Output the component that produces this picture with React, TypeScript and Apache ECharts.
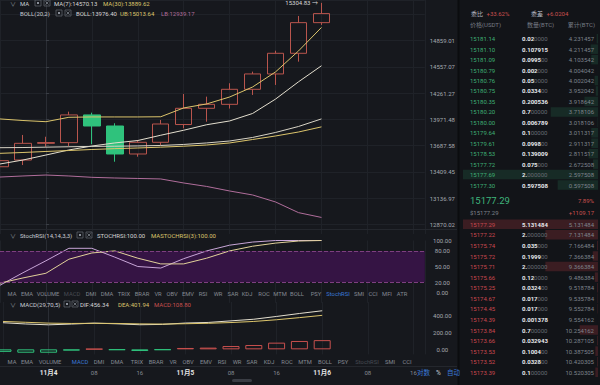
import React, { useEffect, useRef } from 'react';
import * as echarts from 'echarts';

const FONT = 'Roboto, "Noto Sans CJK SC", sans-serif';

// ---- 4h candles; hours counted from 11月4 00:00 ----
const hours = [-8, -4, 0, 4, 8, 12, 16, 20, 24, 28, 32, 36, 40, 44, 48];
const opens = [13463, 13534, 13712, 13719, 14020, 13899, 13598, 13723, 13915, 14093, 14137, 14304, 14477, 14713, 15070];
const closes = [13527, 13712, 13720, 14020, 13899, 13598, 13723, 13921, 14093, 14137, 14304, 14477, 14713, 15070, 15177.29];
const lows = [13450, 13481, 13676, 13683, 13702, 13516, 13569, 13694, 13874, 13946, 14090, 14241, 14353, 14617, 15043];
const highs = [13556, 13802, 13783, 14056, 14045, 13929, 13748, 13965, 14252, 14222, 14372, 14503, 14743, 15149, 15304.83];

const ma7 = [13492, 13534, 13587, 13641, 13683, 13716, 13742, 13799, 13853, 13913, 13954, 14036, 14195, 14388, 14570.13];
const ma30 = [13605, 13614, 13625, 13635, 13646, 13655, 13662, 13671, 13681, 13694, 13716, 13753, 13791, 13834, 13889.62];
const bollMid = [13665, 13667, 13671, 13675, 13679, 13681, 13684, 13689, 13700, 13716, 13737, 13775, 13829, 13894, 13976.40];
const bollUp = [13976, 13959, 13946, 13994, 13998, 13998, 13998, 14000, 14097, 14141, 14218, 14330, 14500, 14740, 15013.64];
const bollLow = [13355, 13366, 13376, 13366, 13352, 13345, 13340, 13335, 13293, 13257, 13210, 13169, 13097, 12988, 12939.17];

const stochRsi = [14, 38, 61, 85, 85, 68, 50, 47, 65, 80, 91, 97, 100, 100, 100];
const maStochRsi = [18, 28, 37, 64, 76, 80, 66, 55, 55, 66, 80, 89, 95, 99, 100];

const dif = [315, 300, 290, 299, 310, 302, 291, 295, 311, 318, 337, 356, 389, 424, 456.34];
const dea = [330, 320, 310, 306, 308, 306, 301, 299, 303, 308, 317, 330, 350, 375, 401.94];
const macdHist = [-30, -40, -40, -15, 5, -8, -20, -8, 16, 20, 39, 51, 79, 99, 108.80];

const priceTicks = [12870.02, 13136.97, 13409.45, 13687.58, 13971.48, 14261.27, 14557.07, 14859.01];
const stochTicks = [0, 20, 50, 80, 100];
const macdTicks = [0, 200, 400];

// ---- order book ----
const askPrices = [15181.14, 15181.10, 15181.09, 15180.79, 15180.76, 15180.75, 15180.35, 15180.20, 15180.00, 15179.64, 15179.61, 15178.53, 15177.72, 15177.69, 15177.30];
const askQty = [0.02, 0.107915, 0.0995, 0.002, 0.05, 0.0334, 0.200536, 0.7, 0.006789, 0.1, 0.0998, 0.139009, 0.075, 2.0, 0.597508];
const askCum = [4.231457, 4.211457, 4.103542, 4.004042, 4.002042, 3.952042, 3.918642, 3.718106, 3.018106, 3.011317, 2.911317, 2.811517, 2.672508, 2.597508, 0.597508];
const bidPrices = [15177.29, 15177.22, 15175.74, 15175.72, 15175.71, 15175.66, 15175.25, 15174.67, 15174.45, 15174.39, 15173.84, 15173.66, 15173.53, 15173.52, 15173.39];
const bidQty = [5.131484, 2.0, 0.035, 0.1999, 2.0, 0.12, 0.0324, 0.017, 0.017, 0.001378, 0.7, 0.032943, 0.1004, 0.0328, 0.1];
const bidCum = [5.131484, 7.131484, 7.166484, 7.366384, 9.366384, 9.486384, 9.518784, 9.535784, 9.552784, 9.554162, 10.254162, 10.287105, 10.387505, 10.420305, 10.520305];
const orderRatio = '+33.62%';
const orderDiff = '+6.0204';
const dayChangePct = '7.89%';
const dayChange = '+1109.17';

const tabs1 = ['MA', 'EMA', 'VOLUME', 'MACD', 'DMI', 'DMA', 'TRIX', 'BRAR', 'VR', 'OBV', 'EMV', 'RSI', 'WR', 'SAR', 'KDJ', 'ROC', 'MTM', 'BOLL', 'PSY', 'StochRSI', 'SMI', 'CCI', 'MFI', 'ATR'];
const tabs2 = ['MA', 'EMA', 'VOLUME', 'MACD', 'DMI', 'DMA', 'TRIX', 'BRAR', 'VR', 'OBV', 'EMV', 'RSI', 'WR', 'SAR', 'KDJ', 'ROC', 'MTM', 'BOLL', 'PSY', 'StochRSI', 'SMI', 'CCI'];

// ---- layout / style constants ----
const TAB1_X = [12, 27, 48, 72, 91, 107, 124, 142, 158, 172, 188, 203, 218, 233, 247, 264, 280, 297, 316, 338, 359, 373, 387, 402];
const TAB2_X = [12, 27, 50, 80, 99, 117, 137, 156, 173, 188, 206, 222, 237, 252, 269, 287, 305, 325, 343, 367, 390, 407];
const BG = '#16181d';
const BOOK_BG = '#121418';
const GRID_LINE = '#1f2228';
const AXIS_LINE = '#2a2d34';
const LABEL = '#a4a8b0';
const GRAY = '#858a93';
const RED = '#c9504e';
const GREEN = '#2fc27c';
const YELLOW = '#dcc56c';
const WHITE_LINE = '#e4dfcf';
const PURPLE = '#b06e9b';
const BLUE = '#3b78d8';

// log price axis: one tick step per 26.23 px; the 12870.02 tick sits at y = 224.3
const STEP_PX = 26.23;
const LOG_BASE = Math.pow(12870.02, 1 / 461);
const MAIN_H = 234;
const PMIN = Math.pow(LOG_BASE, 461 - (MAIN_H - 224.3) / STEP_PX);
const PMAX = Math.pow(LOG_BASE, 461 + 224.3 / STEP_PX);

const last = (a: number[]) => a[a.length - 1];

function txt(x: number, y: number, text: string, fill: string, size = 6, extra: any = {}) {
  return {
    type: 'text', x, y, z: 100, silent: true,
    style: { text, fill, fontSize: size, fontFamily: FONT, align: 'left', verticalAlign: 'middle', ...extra },
  };
}

function icons(x: number, cy: number, gap: number) {
  const s = '#666b74';
  return [
    { type: 'rect', z: 100, silent: true, shape: { x, y: cy - 3, width: 6, height: 6 }, style: { fill: 'none', stroke: s, lineWidth: 0.7 } },
    { type: 'rect', z: 100, silent: true, shape: { x: x + 2, y: cy - 1, width: 2, height: 2 }, style: { fill: '#8b9099' } },
    { type: 'rect', z: 100, silent: true, shape: { x: x + gap, y: cy - 3, width: 6, height: 6 }, style: { fill: 'none', stroke: s, lineWidth: 0.7 } },
    { type: 'line', z: 100, silent: true, shape: { x1: x + gap + 1.5, y1: cy - 1.5, x2: x + gap + 4.5, y2: cy + 1.5 }, style: { stroke: '#8b9099', lineWidth: 0.7 } },
    { type: 'line', z: 100, silent: true, shape: { x1: x + gap + 4.5, y1: cy - 1.5, x2: x + gap + 1.5, y2: cy + 1.5 }, style: { stroke: '#8b9099', lineWidth: 0.7 } },
  ];
}

function qtyRich(q: number) {
  const s = q.toFixed(6);
  const strong = s.replace(/0+$/, '');
  const weak = s.slice(strong.length);
  return weak ? `{a|${strong}}{b|${weak}}` : `{a|${strong}}`;
}

const RICH_QTY = {
  a: { fill: '#e6e8ec', fontWeight: 'bold', fontSize: 6, fontFamily: FONT },
  b: { fill: '#676c74', fontSize: 6, fontFamily: FONT },
};

function buildGraphics() {
  const g: any[] = [];
  g.push({ type: 'rect', z: -10, silent: true, shape: { x: 459, y: 0, width: 141, height: 385 }, style: { fill: BOOK_BG } });
  g.push({ type: 'rect', z: -9, silent: true, shape: { x: 457.5, y: 0, width: 2, height: 385 }, style: { fill: '#0b0c0f' } });
  g.push({ type: 'line', z: 50, silent: true, shape: { x1: 0, y1: 229.5, x2: 457, y2: 229.5 }, style: { stroke: '#24272d', lineWidth: 1 } });
  g.push({ type: 'line', z: 50, silent: true, shape: { x1: 0, y1: 366.5, x2: 457, y2: 366.5 }, style: { stroke: '#24272d', lineWidth: 1 } });

  // main header
  g.push(txt(10, 3, '∨', GRAY, 6));
  g.push(txt(20, 3, 'MA', '#c8ccd3'));
  g.push(...icons(35, 3, 9));
  g.push(txt(54, 3, `MA(7):${last(ma7).toFixed(2)}`, '#d6d6d6'));
  g.push(txt(103, 3, `MA(30):${last(ma30).toFixed(2)}`, YELLOW));
  g.push(txt(20, 13, 'BOLL(20,2)', '#c8ccd3'));
  g.push(...icons(56, 13, 9));
  g.push(txt(76, 13, `BOLL:${last(bollMid).toFixed(2)}`, '#d6d6d6'));
  g.push(txt(120, 13, `UB:${last(bollUp).toFixed(2)}`, YELLOW));
  g.push(txt(161, 13, `LB:${last(bollLow).toFixed(2)}`, PURPLE));

  // StochRSI header
  g.push(txt(10, 235, '∨', GRAY, 6));
  g.push(txt(20, 235, 'StochRSI(14,14,3,3)', '#c8ccd3'));
  g.push(...icons(77, 235, 9));
  g.push(txt(97, 235, `STOCHRSI:${last(stochRsi).toFixed(2)}`, '#d6d6d6'));
  g.push(txt(151, 235, `MASTOCHRSI(3):${last(maStochRsi).toFixed(2)}`, YELLOW));

  // MACD header
  g.push(txt(10, 304, '∨', GRAY, 6));
  g.push(txt(20, 304, 'MACD(29,70,5)', '#c8ccd3'));
  g.push(...icons(64, 304, 8));
  g.push(txt(80, 304, `DIF:${last(dif).toFixed(2)}`, '#d6d6d6'));
  g.push(txt(118, 304, `DEA:${last(dea).toFixed(2)}`, YELLOW));
  g.push(txt(154, 304, `MACD:${last(macdHist).toFixed(2)}`, RED));

  // tab bars
  tabs1.forEach((t, i) => {
    const c = t === 'StochRSI' ? BLUE : t === 'MACD' ? '#474b53' : GRAY;
    g.push(txt(TAB1_X[i], 293.5, t, c, 5.8, { align: 'center' }));
  });
  tabs2.forEach((t, i) => {
    const c = t === 'MACD' ? BLUE : t === 'StochRSI' ? '#474b53' : GRAY;
    g.push(txt(TAB2_X[i], 362.3, t, c, 5.8, { align: 'center' }));
  });

  // bottom right toggles
  g.push(txt(417, 373, '对数', BLUE, 6.5));
  g.push(txt(436, 373, '%', '#c8ccd3', 6.5));
  g.push(txt(447, 373, '自动', BLUE, 6.5));
  g.push({ type: 'rect', z: 100, silent: true, shape: { x: 232, y: 379, width: 20, height: 3, r: 1.5 }, style: { fill: '#3a3d44' } });

  // order book header
  g.push(txt(471, 13.3, '委比', '#b8bcc4'));
  g.push(txt(486.5, 13.3, orderRatio, RED));
  g.push(txt(531, 13.3, '委差', '#b8bcc4'));
  g.push(txt(546.5, 13.3, orderDiff, RED));
  g.push(txt(470, 24.3, '价格(USDT)', '#767b84'));
  g.push(txt(527, 24.3, '数量(BTC)', '#767b84'));
  g.push(txt(595, 24.3, '累计(BTC)', '#767b84', 6, { align: 'right' }));

  askPrices.forEach((p, i) => {
    const y = 38.7 + i * 10.45;
    g.push(txt(470, y, p.toFixed(2), '#3eae74'));
    g.push(txt(522, y, qtyRich(askQty[i]), '#e6e8ec', 6, { rich: RICH_QTY }));
    g.push(txt(594, y, askCum[i].toFixed(6), '#7e838c', 6, { align: 'right' }));
  });

  const lastPrice = last(closes);
  g.push(txt(470, 200.7, lastPrice.toFixed(2), '#3fb67c', 9.5));
  g.push(txt(470, 212.3, '$' + lastPrice.toFixed(2), '#7e838c', 6));
  g.push(txt(594, 200.7, dayChangePct, RED, 6, { align: 'right' }));
  g.push(txt(594, 212.3, dayChange, RED, 6, { align: 'right' }));

  bidPrices.forEach((p, i) => {
    const y = 224.3 + i * 10.57;
    g.push(txt(470, y, p.toFixed(2), '#c9484f'));
    g.push(txt(522, y, qtyRich(bidQty[i]), '#e6e8ec', 6, { rich: RICH_QTY }));
    g.push(txt(594, y, bidCum[i].toFixed(6), '#7e838c', 6, { align: 'right' }));
  });
  return g;
}

function xAxisFor(gridIndex: number, showLabel: boolean) {
  return {
    type: 'value', gridIndex, min: -8, max: 66, interval: 8,
    axisLine: { show: false }, axisTick: { show: false },
    splitLine: { show: true, lineStyle: { color: GRID_LINE, width: 1 } },
    axisLabel: showLabel
      ? {
          show: true, margin: 15, fontFamily: FONT,
          formatter: (v: number) => {
            if (v < 0 || v > 64 || v % 8 !== 0) return '';
            const h = v % 24;
            if (h === 0) return `{d|11月${4 + v / 24}}`;
            return `{h|${h < 10 ? '0' + h : h}}`;
          },
          rich: {
            d: { color: '#e6e6e6', fontWeight: 'bold', fontSize: 6.5, fontFamily: FONT },
            h: { color: GRAY, fontSize: 6, fontFamily: FONT },
          },
        }
      : { show: false },
  };
}

function sideAxisLabel(formatter: (v: number) => string, extra: any = {}) {
  return { show: true, color: LABEL, fontSize: 6, fontFamily: FONT, align: 'center', margin: 17.5, interval: 0, formatter, ...extra };
}

function buildOption(): any {
  const lineS = (name: string, data: number[], color: string, xi = 0, yi = 0) => ({
    type: 'line', name, xAxisIndex: xi, yAxisIndex: yi, showSymbol: false, silent: true,
    data: hours.map((h, i) => [h, data[i]]),
    lineStyle: { color, width: 1 }, z: 3,
  });
  return {
    animation: false,
    backgroundColor: BG,
    textStyle: { fontFamily: FONT },
    grid: [
      { left: -2.2, width: 427, top: 0, height: MAIN_H },
      { left: -2.2, width: 427, top: 240.5, height: 62.4 },
      { left: -2.2, width: 427, top: 302, height: 52.4 },
      { left: 463, width: 135, top: 33.5, height: 156.75 },
      { left: 463, width: 135, top: 219, height: 158.55 },
    ],
    xAxis: [
      xAxisFor(0, false),
      xAxisFor(1, false),
      xAxisFor(2, true),
      { type: 'value', gridIndex: 3, inverse: true, min: 0, max: Math.max(...askQty), show: false },
      { type: 'value', gridIndex: 4, inverse: true, min: 0, max: Math.max(...bidQty), show: false },
    ],
    yAxis: [
      {
        type: 'log', gridIndex: 0, position: 'right', logBase: LOG_BASE, min: PMIN, max: PMAX,
        axisLine: { show: true, lineStyle: { color: AXIS_LINE } },
        axisTick: { show: true, length: 3, lineStyle: { color: '#3a3e45' } },
        splitLine: { show: true, showMinLine: false, lineStyle: { color: GRID_LINE } },
        axisLabel: sideAxisLabel((v: number) => {
          const hit = priceTicks.find((t) => Math.abs(t - v) / t < 3e-4);
          return hit ? hit.toFixed(2) : '';
        }, { showMinLabel: false }),
      },
      {
        type: 'value', gridIndex: 1, position: 'right', min: -20, max: 100, interval: 10,
        axisLine: { show: true, lineStyle: { color: AXIS_LINE } }, axisTick: { show: false },
        splitLine: { show: false },
        axisLabel: sideAxisLabel((v: number) => (stochTicks.includes(v) ? v.toFixed(2) : ''), { showMinLabel: false, showMaxLabel: true }),
      },
      {
        type: 'value', gridIndex: 2, position: 'right', min: -60, max: 560, interval: 20,
        axisLine: { show: true, lineStyle: { color: AXIS_LINE } }, axisTick: { show: false },
        splitLine: { show: false },
        axisLabel: sideAxisLabel((v: number) => (macdTicks.includes(v) ? v.toFixed(2) : '')),
      },
      { type: 'category', gridIndex: 3, inverse: true, data: askPrices.map((p) => p.toFixed(2)), show: false },
      { type: 'category', gridIndex: 4, inverse: true, data: bidPrices.map((p) => p.toFixed(2)), show: false },
    ],
    series: [
      {
        type: 'candlestick', xAxisIndex: 0, yAxisIndex: 0, barWidth: 17, silent: true, z: 2,
        data: hours.map((h, i) => [h, opens[i], closes[i], lows[i], highs[i]]),
        itemStyle: { color: 'transparent', color0: GREEN, borderColor: '#b9554d', borderColor0: GREEN, borderWidth: 1 },
        markPoint: {
          symbol: 'circle', symbolSize: 1, silent: true,
          itemStyle: { color: 'transparent' },
          data: [{ coord: [last(hours), last(highs)], value: last(highs) }],
          label: {
            show: true, position: 'left', distance: 3, color: '#d8d8d8', fontSize: 6, fontFamily: FONT,
            formatter: (p: any) => `${Number(p.value).toFixed(2)} →`,
          },
        },
        markLine: {
          silent: true, symbol: ['none', 'none'],
          lineStyle: { opacity: 0 },
          data: [{ yAxis: last(closes) }],
          label: {
            show: true, position: 'end', distance: 0, color: '#ffffff', fontSize: 6, fontFamily: FONT,
            backgroundColor: '#c4484a', padding: [2, 3, 2, 6], borderRadius: 1,
            formatter: () => last(closes).toFixed(2),
          },
        },
      },
      lineS('MA7', ma7, WHITE_LINE),
      lineS('MA30', ma30, YELLOW),
      lineS('BOLL', bollMid, '#d8d4c6'),
      lineS('UB', bollUp, YELLOW),
      lineS('LB', bollLow, PURPLE),
      {
        ...lineS('STOCHRSI', stochRsi, '#c8a6d8', 1, 1),
        markArea: { silent: true, itemStyle: { color: '#351444' }, data: [[{ yAxis: 20 }, { yAxis: 80 }]] },
        markLine: {
          silent: true, symbol: ['none', 'none'], label: { show: false },
          lineStyle: { color: '#7d3f80', type: 'dashed', width: 1 },
          data: [{ yAxis: 80 }, { yAxis: 20 }],
        },
      },
      lineS('MASTOCHRSI', maStochRsi, '#e2d29a', 1, 1),
      {
        type: 'bar', xAxisIndex: 2, yAxisIndex: 2, barWidth: 17, silent: true,
        data: hours.map((h, i) => ({
          value: [h, macdHist[i]],
          itemStyle: { color: 'transparent', borderColor: macdHist[i] >= 0 ? RED : GREEN, borderWidth: 1 },
        })),
      },
      lineS('DIF', dif, WHITE_LINE, 2, 2),
      lineS('DEA', dea, YELLOW, 2, 2),
      {
        type: 'bar', xAxisIndex: 3, yAxisIndex: 3, barWidth: 9.5, silent: true,
        data: askQty, itemStyle: { color: 'rgba(52,170,115,0.16)' },
      },
      {
        type: 'bar', xAxisIndex: 4, yAxisIndex: 4, barWidth: 9.5, silent: true,
        data: bidQty, itemStyle: { color: 'rgba(205,62,72,0.22)' },
      },
    ],
    graphic: buildGraphics(),
  };
}

export default function App() {
  const ref = useRef<HTMLDivElement>(null);
  useEffect(() => {
    document.body.style.margin = '0';
    document.body.style.background = BG;
    const chart = echarts.init(ref.current!, null, { renderer: 'svg' });
    chart.setOption(buildOption());
    return () => chart.dispose();
  }, []);
  return <div ref={ref} style={{ width: 600, height: 385 }} />;
}
